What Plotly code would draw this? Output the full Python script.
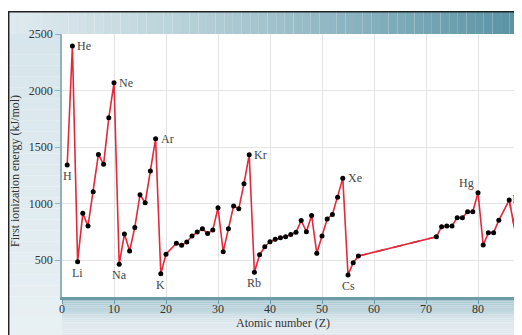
import plotly.graph_objects as go

# ---- data ----
atomic_number = [1, 2, 3, 4, 5, 6, 7, 8, 9, 10,
                 11, 12, 13, 14, 15, 16, 17, 18, 19, 20,
                 22, 23, 24, 25, 26, 27, 28, 29, 30,
                 31, 32, 33, 34, 35, 36, 37, 38, 39, 40,
                 41, 42, 43, 44, 45, 46, 47, 48, 49, 50,
                 51, 52, 53, 54, 55, 56, 57,
                 72, 73, 74, 75, 76, 77, 78, 79, 80,
                 81, 82, 83, 84, 86, 88]
ionization_energy = [1341, 2394, 485, 913, 801, 1105, 1435, 1347, 1759, 2069,
                     462, 730, 580, 789, 1078, 1007, 1288, 1574, 379, 552,
                     648, 630, 660, 712, 747, 776, 735, 765, 963,
                     574, 776, 978, 955, 1176, 1433, 391, 547, 618, 662,
                     683, 697, 707, 727, 745, 850, 750, 895, 559, 712,
                     863, 904, 1055, 1223, 367, 476, 535,
                     706, 795, 801, 801, 875, 875, 928, 928, 1096,
                     633, 742, 742, 852, 1031, 544]
dashed_after = [57, 86]          # gaps drawn as dashed lines
label_symbols = ["H", "He", "Li", "Ne", "Na", "Ar", "K", "Kr", "Rb", "Xe", "Cs", "Hg", "Rn"]
label_z = [1, 2, 3, 10, 11, 18, 19, 36, 37, 54, 55, 80, 86]
label_side = ["below", "right", "below", "right", "below", "right", "below",
              "right", "below", "right", "below", "aboveleft", "edge"]
x_ticks = [0, 10, 20, 30, 40, 50, 60, 70, 80]
y_ticks = [500, 1000, 1500, 2000, 2500]

# the page has an 8px body margin; work in page pixels and convert
OFF = 8
W, H = 522 - OFF, 335 - OFF
PL, PR, PT, PB = 62, 522, 34, 297          # plot area in page pixels
ML, MR, MT, MB = PL - OFF, 0, PT - OFF, H - (PB - OFF)
PW, PH = W - ML - MR, H - MT - MB

def px(xp):
    return (xp - PL) / PW

def py(yp):
    return (PB - yp) / PH

RED = "#e3293a"
FONT = "Liberation Serif"
LABEL_COLOR = "#444444"

fig = go.Figure()

# solid and dashed segments
segs, cur = [], []
for z, v in zip(atomic_number, ionization_energy):
    cur.append((z, v))
    if z in dashed_after:
        segs.append(cur)
        cur = [(z, v)]
segs.append(cur)
for s in segs:
    fig.add_trace(go.Scatter(x=[p[0] for p in s], y=[p[1] for p in s], mode="lines",
                             line=dict(color=RED, width=1.6), hoverinfo="skip", showlegend=False))
zs = list(zip(atomic_number, ionization_energy))
for i in range(len(zs) - 1):
    if zs[i][0] in dashed_after:
        fig.add_trace(go.Scatter(x=[zs[i][0], zs[i + 1][0]], y=[zs[i][1], zs[i + 1][1]],
                                 mode="lines", line=dict(color=RED, width=1.6, dash="dash"),
                                 hoverinfo="skip", showlegend=False))
fig.add_trace(go.Scatter(x=atomic_number, y=ionization_energy, mode="markers",
                         marker=dict(color="black", size=5), showlegend=False, cliponaxis=False))

# element labels
annotations = []
for sym, z, side in zip(label_symbols, label_z, label_side):
    v = ionization_energy[atomic_number.index(z)]
    if side == "edge":
        fig.add_trace(go.Scatter(x=[z], y=[v], mode="text", text=[" " + sym],
                                 textposition="middle right", cliponaxis=False, hoverinfo="skip",
                                 textfont=dict(family=FONT, size=12, color=LABEL_COLOR), showlegend=False))
        continue
    a = dict(x=z, y=v, xref="x", yref="y", text=sym, showarrow=False, borderpad=0,
             font=dict(family=FONT, size=12, color=LABEL_COLOR))
    if side == "right":
        a.update(xanchor="left", yanchor="middle", xshift=4)
    elif side == "below":
        a.update(xanchor="center", yanchor="middle", yshift=-11)
    else:
        a.update(xanchor="right", yanchor="bottom", xshift=-3, yshift=2)
    annotations.append(a)

annotations.append(dict(text="Atomic number (Z)", x=px(283), y=py(323), xref="paper", yref="paper",
                        showarrow=False, xanchor="center", yanchor="middle",
                        font=dict(family=FONT, size=12, color="#333333")))
annotations.append(dict(text="First ionization energy (kJ/mol)", x=px(15), y=py(171),
                        xref="paper", yref="paper", textangle=-90, showarrow=False,
                        xanchor="center", yanchor="middle",
                        font=dict(family=FONT, size=12, color="#333333")))

# background gradient panels (margins only)
def mix(c1, c2, t):
    return "rgb(%d,%d,%d)" % tuple(round(a + (b - a) * t) for a, b in zip(c1, c2))

shapes = []
n = 30
for i in range(n):
    y0 = 11 + (340 - 11) * i / n
    y1 = 11 + (340 - 11) * (i + 1) / n
    shapes.append(dict(type="rect", xref="paper", yref="paper", x0=px(8), x1=px(PL), y0=py(y0), y1=py(y1),
                       fillcolor=mix((214, 229, 235), (232, 240, 243), i / (n - 1)), line=dict(width=0), layer="below"))
n = 60
for i in range(n):
    x0 = 8 + (527 - 8) * i / n
    x1 = 8 + (527 - 8) * (i + 1) / n
    t = (i / (n - 1)) ** 1.15
    shapes.append(dict(type="rect", xref="paper", yref="paper", x0=px(x0), x1=px(x1), y0=py(11), y1=py(PT),
                       fillcolor=mix((222, 234, 238), (88, 146, 164), t), line=dict(width=0), layer="below"))
n = 20
for i in range(n):
    y0 = PB + (340 - PB) * i / n
    y1 = PB + (340 - PB) * (i + 1) / n
    t = min(1, i / (n * 0.6))
    shapes.append(dict(type="rect", xref="paper", yref="paper", x0=px(PL), x1=px(527), y0=py(y0), y1=py(y1),
                       fillcolor=mix((165, 197, 208), (224, 234, 238), t), line=dict(width=0), layer="below"))
shapes.append(dict(type="line", xref="paper", yref="paper", x0=px(8.7), x1=px(527), y0=py(11.7), y1=py(11.7),
                   line=dict(color="#222222", width=1.5), layer="below"))
shapes.append(dict(type="line", xref="paper", yref="paper", x0=px(8.7), x1=px(8.7), y0=py(11), y1=py(340),
                   line=dict(color="#222222", width=1.5), layer="below"))

fig.update_layout(
    width=W, height=H, margin=dict(l=ML, r=MR, t=MT, b=MB, autoexpand=False),
    paper_bgcolor="white", plot_bgcolor="white",
    annotations=annotations, shapes=shapes,
    xaxis=dict(range=[0, PW / 5.2], tickvals=x_ticks, showgrid=True, gridcolor="#e4e4e4", gridwidth=1,
               zeroline=False, showline=True, linecolor="#6f9aa8", linewidth=2.5,
               ticks="outside", ticklen=4, tickcolor="#6f9aa8", automargin=False,
               ticklabelstandoff=-5,
               tickfont=dict(family=FONT, size=12, color="#333333")),
    yaxis=dict(range=[172.6, 2501], tickvals=y_ticks, showgrid=True, gridcolor="#e4e4e4", gridwidth=1,
               zeroline=False, showline=True, linecolor="#93b1bd", linewidth=1.5,
               ticks="outside", ticklen=5, tickcolor="#93b1bd", automargin=False,
               tickfont=dict(family=FONT, size=12, color="#333333")),
)

fig.write_html("out.html")
